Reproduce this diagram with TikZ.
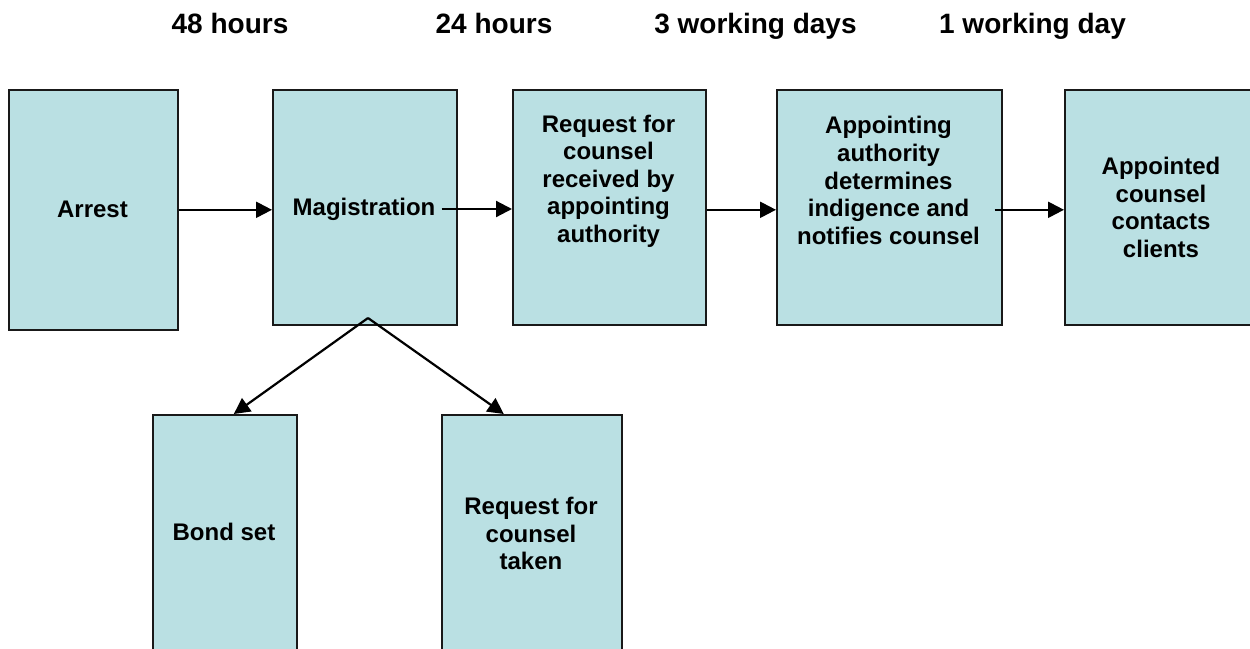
\documentclass[tikz,border=0pt]{standalone}
\usepackage{fontspec}
\setmainfont{Liberation Sans}
\usetikzlibrary{arrows.meta}
\definecolor{boxfill}{RGB}{186,224,227}
\definecolor{boxline}{RGB}{25,25,25}
\begin{document}
\begin{tikzpicture}[x=1pt,y=-1pt,
  box/.style={draw=boxline, fill=boxfill, line width=1.6pt, inner sep=0pt, anchor=north west},
  txt/.style={font=\fontsize{24}{27.6}\selectfont\bfseries, align=center, inner sep=0pt},
  hdr/.style={font=\fontsize{28}{32}\selectfont\bfseries, anchor=base, inner sep=0pt},
  arr/.style={line width=2.2pt, -{Triangle[length=16pt,width=16pt]}}]
\useasboundingbox (0,0) rectangle (1250,648);
\clip (0,0) rectangle (1250,648);
% headers
\node[hdr] (h1) at (230,33) {48 hours};
\node[hdr] (h2) at (494,33) {24 hours};
\node[hdr] (h3) at (755.5,33) {3 working days};
\node[hdr] (h4) at (1032.5,33) {1 working day};
% boxes
\node[box, minimum width=169pt, minimum height=240pt] (arrest) at (8,89) {};
\node[box, minimum width=184pt, minimum height=235pt] (mag) at (272,89) {};
\node[box, minimum width=193pt, minimum height=235pt] (req) at (512,89) {};
\node[box, minimum width=225pt, minimum height=235pt] (app) at (776,89) {};
\node[box, minimum width=194pt, minimum height=235pt] (apptd) at (1064,89) {};
\node[box, minimum width=144pt, minimum height=251pt] (bond) at (152,414) {};
\node[box, minimum width=180pt, minimum height=251pt] (taken) at (441,414) {};
% texts
\node[txt] (arrestT) at (92.5,209.5) {Arrest};
\node[txt] (magT) at (364,209) {Magistration};
\node[txt] (reqT) at (608.5,181) {Request for\\counsel\\received by\\appointing\\authority};
\node[txt] (appT) at (888.5,180.5) {Appointing\\authority\\determines\\indigence and\\notifies counsel};
\node[txt] (apptdT) at (1161,207.5) {Appointed\\counsel\\contacts\\clients};
\node[txt] (bondT) at (224,532) {Bond set};
\node[txt] (takenT) at (531,533.5) {Request for\\counsel\\taken};
% connectors
\draw[arr] (arrest.east) -- (arrest.east -| mag.west);
\draw[arr] ([xshift=6pt]magT.east) -- (magT.east -| req.west);
\draw[arr] (req.east |- arrest.east) -- (arrest.east -| app.west);
\draw[arr] ([xshift=-8pt]app.east |- arrest.east) -- (arrest.east -| apptd.west);
\coordinate (split) at (368,318);
\draw[arr] (split) -- ([xshift=9pt]bond.north);
\draw[arr] (split) -- ([xshift=-28pt]taken.north);
\end{tikzpicture}
\end{document}
